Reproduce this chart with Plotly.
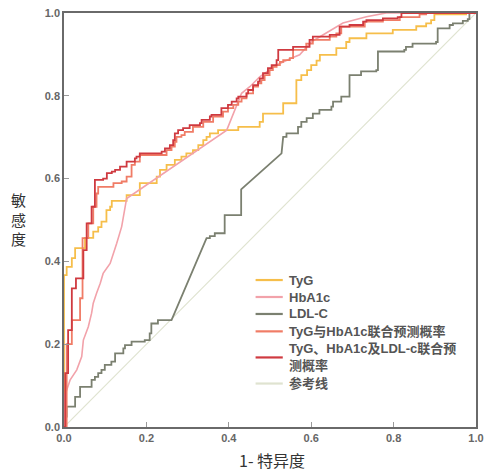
import plotly.graph_objects as go

# ---------------- data ----------------
tyg_fpr = [0, 0, 0.0065, 0.019, 0.027, 0.051, 0.071, 0.083, 0.091, 0.103,
           0.112, 0.116, 0.152, 0.184, 0.225, 0.233, 0.249, 0.269, 0.285, 0.297,
           0.313, 0.326, 0.338, 0.346, 0.354, 0.374, 0.423, 0.475, 0.483, 0.532,
           0.564, 0.576, 0.590, 0.600, 0.613, 0.621, 0.661, 0.685, 0.693, 0.734,
           0.798, 0.855, 0.879, 0.891, 0.899, 0.976, 1.0]
tyg_tpr = [0, 0.367, 0.387, 0.408, 0.432, 0.457, 0.472, 0.483, 0.496, 0.524,
           0.532, 0.546, 0.560, 0.589, 0.605, 0.621, 0.633, 0.645, 0.653, 0.661,
           0.669, 0.681, 0.693, 0.701, 0.709, 0.717, 0.725, 0.737, 0.757, 0.782,
           0.838, 0.850, 0.862, 0.874, 0.885, 0.899, 0.915, 0.930, 0.939, 0.951,
           0.959, 0.968, 0.975, 0.983, 0.997, 1.0, 1.0]

hba1c_fpr = [0, 0, 0.0025, 0.015, 0.031, 0.043, 0.047, 0.059, 0.067, 0.071,
             0.079, 0.088, 0.095, 0.112, 0.128, 0.140, 0.152, 0.390, 0.395, 0.431,
             0.451, 0.475, 0.515, 0.550, 0.572, 0.600, 0.677, 0.734, 0.782, 1.0]
hba1c_tpr = [0, 0.077, 0.077, 0.114, 0.138, 0.170, 0.210, 0.242, 0.275, 0.299,
             0.323, 0.347, 0.371, 0.395, 0.444, 0.484, 0.552, 0.713, 0.717, 0.806,
             0.822, 0.846, 0.874, 0.890, 0.899, 0.930, 0.976, 0.991, 1.0, 1.0]

ldl_fpr = [0, 0, 0.0065, 0.0065, 0.027, 0.027, 0.039, 0.039, 0.067, 0.067,
           0.075, 0.075, 0.083, 0.083, 0.091, 0.091, 0.099, 0.099, 0.115, 0.115,
           0.124, 0.124, 0.144, 0.144, 0.148, 0.148, 0.164, 0.164, 0.196, 0.196,
           0.208, 0.208, 0.212, 0.212, 0.228, 0.228, 0.261, 0.346, 0.354, 0.354,
           0.366, 0.366, 0.390, 0.390, 0.430, 0.430, 0.528, 0.532, 0.540, 0.540,
           0.568, 0.568, 0.576, 0.576, 0.589, 0.589, 0.604, 0.604, 0.620, 0.620,
           0.649, 0.649, 0.653, 0.653, 0.673, 0.673, 0.693, 0.693, 0.721, 0.721,
           0.758, 0.758, 0.762, 0.762, 0.826, 0.826, 0.830, 0.830, 0.846, 0.846,
           0.903, 0.903, 0.907, 0.907, 0.936, 0.936, 0.944, 0.944, 0.968, 0.968,
           0.980, 0.980, 0.984, 0.984, 1.0]
ldl_tpr = [0, 0.025, 0.025, 0.049, 0.049, 0.073, 0.073, 0.097, 0.097, 0.114,
           0.114, 0.121, 0.121, 0.130, 0.130, 0.138, 0.138, 0.150, 0.150, 0.158,
           0.158, 0.178, 0.178, 0.190, 0.190, 0.198, 0.198, 0.206, 0.206, 0.210,
           0.210, 0.226, 0.226, 0.250, 0.250, 0.258, 0.258, 0.456, 0.456, 0.461,
           0.461, 0.468, 0.468, 0.512, 0.512, 0.574, 0.661, 0.701, 0.701, 0.709,
           0.709, 0.725, 0.725, 0.737, 0.737, 0.746, 0.746, 0.757, 0.757, 0.766,
           0.766, 0.774, 0.774, 0.786, 0.786, 0.798, 0.798, 0.850, 0.850, 0.859,
           0.859, 0.862, 0.862, 0.907, 0.907, 0.911, 0.911, 0.918, 0.918, 0.926,
           0.926, 0.930, 0.930, 0.963, 0.963, 0.971, 0.971, 0.975, 0.975, 0.981,
           0.981, 0.985, 0.985, 1.0, 1.0]

combo2_fpr = [0, 0.0065, 0.019, 0.039, 0.045, 0.059, 0.071, 0.079, 0.083, 0.120,
              0.140, 0.152, 0.164, 0.172, 0.184, 0.249, 0.261, 0.269, 0.273, 0.285,
              0.293, 0.313, 0.338, 0.362, 0.386, 0.398, 0.411, 0.423, 0.431, 0.443,
              0.459, 0.471, 0.479, 0.487, 0.499, 0.507, 0.516, 0.524, 0.532, 0.548,
              0.556, 0.588, 0.604, 0.645, 0.661, 0.673, 0.730, 0.774, 0.815, 0.863,
              0.879, 1.0]
combo2_tpr = [0, 0.200, 0.258, 0.311, 0.456, 0.492, 0.532, 0.564, 0.580, 0.589,
              0.593, 0.605, 0.633, 0.641, 0.657, 0.669, 0.677, 0.689, 0.701, 0.705,
              0.713, 0.725, 0.737, 0.750, 0.762, 0.770, 0.778, 0.786, 0.794, 0.806,
              0.822, 0.830, 0.838, 0.850, 0.862, 0.870, 0.874, 0.882, 0.886, 0.891,
              0.911, 0.926, 0.935, 0.943, 0.951, 0.967, 0.979, 0.983, 0.990, 0.997,
              1.0, 1.0]

combo3_fpr = [0, 0.003, 0.010, 0.019, 0.029, 0.047, 0.055, 0.067, 0.075, 0.095,
              0.104, 0.116, 0.124, 0.136, 0.152, 0.172, 0.176, 0.184, 0.237, 0.245,
              0.257, 0.265, 0.269, 0.277, 0.289, 0.305, 0.330, 0.334, 0.354, 0.358,
              0.382, 0.398, 0.407, 0.419, 0.423, 0.443, 0.447, 0.459, 0.471, 0.475,
              0.483, 0.495, 0.504, 0.516, 0.520, 0.556, 0.596, 0.604, 0.645, 0.669,
              0.693, 0.726, 0.734, 0.774, 0.810, 0.819, 1.0]
combo3_tpr = [0, 0.130, 0.234, 0.335, 0.359, 0.427, 0.492, 0.532, 0.597, 0.600,
              0.613, 0.617, 0.621, 0.629, 0.641, 0.649, 0.653, 0.661, 0.665, 0.673,
              0.681, 0.693, 0.709, 0.717, 0.722, 0.729, 0.734, 0.742, 0.750, 0.754,
              0.770, 0.778, 0.786, 0.794, 0.798, 0.806, 0.814, 0.826, 0.834, 0.842,
              0.855, 0.867, 0.874, 0.886, 0.911, 0.918, 0.935, 0.943, 0.947, 0.967,
              0.971, 0.979, 0.983, 0.987, 0.990, 1.0, 1.0]

ref_fpr = [0, 1]
ref_tpr = [0, 1]

tick_vals = [0, 0.2, 0.4, 0.6, 0.8, 1.0]
tick_text = ["0.0", "0.2", "0.4", "0.6", "0.8", "1.0"]

series_names = ["TyG", "HbA1c", "LDL-C", "TyG与HbA1c联合预测概率",
                "TyG、HbA1c及LDL-c联合预<br>测概率", "参考线"]
series_colors = ["#F6BE4A", "#F2A2AA", "#7B8070", "#F07C66", "#CF3A40", "#DFE3D0"]

x_title = "1- 特异度"
y_title = "敏<br>感<br>度"

# ---------------- figure ----------------
fig = go.Figure()

fig.add_trace(go.Scatter(x=ref_fpr, y=ref_tpr, mode="lines", name=series_names[5],
                         line=dict(color=series_colors[5], width=1.2)))
fig.add_trace(go.Scatter(x=ldl_fpr, y=ldl_tpr, mode="lines", name=series_names[2],
                         line=dict(color=series_colors[2], width=1.8)))
fig.add_trace(go.Scatter(x=tyg_fpr, y=tyg_tpr, mode="lines", name=series_names[0],
                         line=dict(color=series_colors[0], width=1.8, shape="hv")))
fig.add_trace(go.Scatter(x=hba1c_fpr, y=hba1c_tpr, mode="lines", name=series_names[1],
                         line=dict(color=series_colors[1], width=1.6)))
fig.add_trace(go.Scatter(x=combo2_fpr, y=combo2_tpr, mode="lines", name=series_names[3],
                         line=dict(color=series_colors[3], width=1.8, shape="hv")))
fig.add_trace(go.Scatter(x=combo3_fpr, y=combo3_tpr, mode="lines", name=series_names[4],
                         line=dict(color=series_colors[4], width=1.8, shape="hv")))

axis_common = dict(
    range=[0, 1], tickvals=tick_vals, ticktext=tick_text,
    showline=True, linecolor="#6a6a6a", linewidth=1.5, mirror=True,
    ticks="inside", ticklen=5, tickcolor="#9a9a9a", tickwidth=1,
    showgrid=False, zeroline=False, automargin=False,
    tickfont=dict(family="Liberation Sans, Arial", size=11, color="#666666", weight="bold"),
)

# legend drawn manually (line sample + text), in the reference's order
legend_rows_y = [0.355, 0.314, 0.273, 0.231, 0.168, 0.105]
shapes = []
annotations = []
for name, color, ly in zip(series_names, series_colors, legend_rows_y):
    shapes.append(dict(type="line", xref="paper", yref="paper",
                       x0=0.465, x1=0.531, y0=ly, y1=ly,
                       line=dict(color=color, width=2.2)))
    annotations.append(dict(text=name, xref="paper", yref="paper",
                            x=0.541, y=ly, xanchor="left", yanchor="middle",
                            showarrow=False, align="left",
                            font=dict(family="Liberation Sans, Noto Sans CJK SC",
                                      size=13, color="#555555", weight="bold")))

annotations.append(dict(text=y_title, xref="paper", yref="paper",
                        x=-0.1115, y=0.502, xanchor="center", yanchor="middle",
                        showarrow=False, align="center",
                        font=dict(family="Noto Sans CJK SC", size=15, color="#333333")))

annotations.append(dict(text=x_title, xref="paper", yref="paper",
                        x=0.505, y=-0.08, xanchor="center", yanchor="middle",
                        showarrow=False,
                        font=dict(family="Noto Sans CJK SC", size=16, color="#333333")))

fig.update_layout(
    width=485, height=471,
    margin=dict(l=64, r=9, t=13, b=44, autoexpand=False),
    paper_bgcolor="white", plot_bgcolor="white",
    xaxis=dict(**axis_common),
    yaxis=dict(**axis_common),
    showlegend=False,
    shapes=shapes,
    annotations=annotations,
)

fig.write_html(
    "out.html",
    config={"displayModeBar": False},
    post_script="document.body.style.margin='0';document.body.style.overflow='hidden';",
)
